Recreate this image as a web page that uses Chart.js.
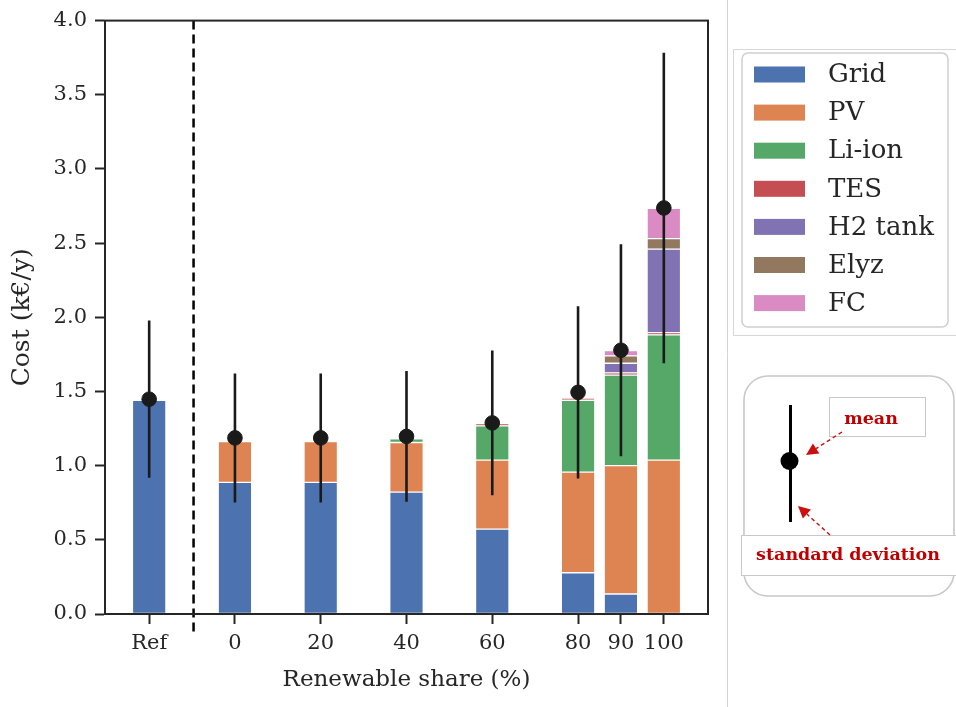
<!DOCTYPE html>
<html>
<head>
<meta charset="utf-8">
<script src="https://cdn.jsdelivr.net/npm/chart.js@4.4.1/dist/chart.umd.min.js"></script>
<style>
  html, body { margin: 0; padding: 0; background: #fff; }
  #wrap { width: 956px; height: 707px; position: relative; }
</style>
</head>
<body>
<div id="wrap"><canvas id="c" width="956" height="707"></canvas></div>
<script>
// Renewable share of each scenario; the reference case sits left of the dashed divider
const shares = [-20, 0, 20, 40, 60, 80, 90, 100];
const shareLabels = ['Ref', '0', '20', '40', '60', '80', '90', '100'];
const dividerAt = -10;

// Yearly cost breakdown (k€/y) per technology
const grid   = [1.441, 0.887, 0.887, 0.822, 0.572, 0.278, 0.135, null];
const pv     = [null, 0.276, 0.276, 0.334, 0.465, 0.678, 0.865, 1.037];
const liIon  = [null, null, null, 0.025, 0.231, 0.485, 0.610, 0.845];
const tes    = [null, null, null, null, 0.015, 0.015, 0.015, 0.015];
const h2Tank = [null, null, null, null, null, null, 0.065, 0.563];
const elyz   = [null, null, null, null, null, null, 0.050, 0.070];
const fc     = [null, null, null, null, null, null, 0.035, 0.205];

// Mean cost and standard deviation over the sampled years
const meanCost = [1.448, 1.187, 1.187, 1.197, 1.288, 1.494, 1.778, 2.737];
const stdCost  = [0.530, 0.435, 0.435, 0.441, 0.488, 0.580, 0.715, 1.046];

const yTicks = [0, 0.5, 1, 1.5, 2, 2.5, 3, 3.5, 4];

const techs = [
  { label: 'Grid',    values: grid,   color: '#4C72B0' },
  { label: 'PV',      values: pv,     color: '#DD8452' },
  { label: 'Li-ion',  values: liIon,  color: '#55A868' },
  { label: 'TES',     values: tes,    color: '#C44E52' },
  { label: 'H2 tank', values: h2Tank, color: '#8172B3' },
  { label: 'Elyz',    values: elyz,   color: '#937860' },
  { label: 'FC',      values: fc,     color: '#DA8BC3' }
];

const INK = '#262626';
const SERIF = "'DejaVu Serif', serif";
Chart.defaults.font.family = SERIF;
Chart.defaults.color = INK;

const barSets = techs.map(t => ({
  type: 'bar',
  label: t.label,
  data: shares.map((s, i) => ({ x: s, y: t.values[i] })),
  backgroundColor: t.color,
  borderColor: '#ffffff',
  borderWidth: 1,
  borderSkipped: false,
  barThickness: 33.5,
  xAxisID: 'x',
  yAxisID: 'y',
  stack: 'cost',
  order: 0
}));

const errSet = {
  type: 'bar',
  label: 'std',
  data: shares.map((s, i) => ({ x: s, y: [meanCost[i] - stdCost[i], meanCost[i] + stdCost[i]] })),
  backgroundColor: '#1a1a1a',
  borderWidth: 0,
  grouped: false,
  maxBarThickness: 2.6,
  xAxisID: 'x',
  yAxisID: 'yStat',
  order: -1
};

const meanSet = {
  type: 'scatter',
  label: 'mean',
  data: shares.map((s, i) => ({ x: s, y: meanCost[i] })),
  backgroundColor: '#1a1a1a',
  borderColor: '#1a1a1a',
  pointRadius: 7.3,
  pointHoverRadius: 7.3,
  xAxisID: 'x',
  yAxisID: 'yStat',
  order: -2
};

function arrow(ctx, x0, y0, x1, y1) {
  const ang = Math.atan2(y1 - y0, x1 - x0);
  const head = 12, half = 6;
  const bx = x1 - head * Math.cos(ang), by = y1 - head * Math.sin(ang);
  ctx.setLineDash([4, 3]);
  ctx.lineWidth = 1.4;
  ctx.beginPath(); ctx.moveTo(x0, y0); ctx.lineTo(bx, by); ctx.stroke();
  ctx.setLineDash([]);
  ctx.beginPath();
  ctx.moveTo(x1, y1);
  ctx.lineTo(bx + half * Math.sin(ang), by - half * Math.cos(ang));
  ctx.lineTo(bx - half * Math.sin(ang), by + half * Math.cos(ang));
  ctx.closePath(); ctx.fill();
}

function roundRect(ctx, x, y, w, h, r) {
  ctx.beginPath();
  ctx.moveTo(x + r, y);
  ctx.arcTo(x + w, y, x + w, y + h, r);
  ctx.arcTo(x + w, y + h, x, y + h, r);
  ctx.arcTo(x, y + h, x, y, r);
  ctx.arcTo(x, y, x + w, y, r);
  ctx.closePath();
}

const decor = {
  id: 'decor',
  afterDraw(chart) {
    const { ctx, chartArea: a, scales: { x } } = chart;
    ctx.save();

    // divider between reference case and scenarios
    const dx = x.getPixelForValue(dividerAt) + 1.5;
    ctx.strokeStyle = '#000';
    ctx.lineWidth = 2.5;
    ctx.setLineDash([9, 5]);
    ctx.beginPath(); ctx.moveTo(dx, a.top); ctx.lineTo(dx, a.bottom + 20); ctx.stroke();
    ctx.setLineDash([]);

    // full box around the plot
    ctx.strokeStyle = INK;
    ctx.lineWidth = 2;
    ctx.strokeRect(a.left, a.top, a.right - a.left, a.bottom - a.top);

    // panel separator
    ctx.strokeStyle = '#d4d4d4';
    ctx.lineWidth = 1;
    ctx.beginPath(); ctx.moveTo(727.5, 0); ctx.lineTo(727.5, 707); ctx.stroke();

    // legend
    ctx.strokeStyle = '#d8d8d8';
    ctx.strokeRect(733.5, 49.5, 240, 286);
    ctx.strokeStyle = '#cfcfcf';
    ctx.lineWidth = 1.5;
    roundRect(ctx, 742, 53, 206, 274, 6); ctx.stroke();
    ctx.font = '26px ' + SERIF;
    ctx.textBaseline = 'middle';
    ctx.textAlign = 'left';
    let row = 0;
    chart.data.datasets.forEach(ds => {
      if (ds.stack !== 'cost') return;
      const cy = 74.5 + row * 38.1;
      ctx.fillStyle = ds.backgroundColor;
      ctx.fillRect(754, cy - 8, 51, 16);
      ctx.fillStyle = INK;
      ctx.fillText(ds.label, 828, cy + 1);
      row++;
    });

    // key explaining the mean marker and error bar
    ctx.strokeStyle = '#c8c8c8';
    ctx.lineWidth = 1.6;
    roundRect(ctx, 744, 376, 210, 220, 24); ctx.stroke();
    ctx.lineWidth = 1;
    ctx.strokeRect(829.5, 397.5, 96, 39);
    ctx.fillStyle = '#fff';
    ctx.fillRect(741.5, 535.5, 220, 40);
    ctx.strokeRect(741.5, 535.5, 220, 40);
    ctx.strokeStyle = '#000'; ctx.lineWidth = 3;
    ctx.beginPath(); ctx.moveTo(790.5, 405); ctx.lineTo(790.5, 522); ctx.stroke();
    ctx.fillStyle = '#000';
    ctx.beginPath(); ctx.arc(789.5, 461, 9, 0, Math.PI * 2); ctx.fill();
    ctx.strokeStyle = '#cc1010'; ctx.fillStyle = '#cc1010';
    arrow(ctx, 842, 432, 806, 455);
    arrow(ctx, 830, 535, 798, 506);
    ctx.fillStyle = '#c00000';
    ctx.font = 'bold 17.5px ' + SERIF;
    ctx.textAlign = 'center';
    ctx.fillText('mean', 871, 419);
    ctx.fillText('standard deviation', 848, 555);
    ctx.restore();
  }
};

new Chart(document.getElementById('c'), {
  data: { datasets: [meanSet, errSet, ...barSets] },
  options: {
    responsive: false,
    animation: false,
    devicePixelRatio: 1,
    layout: { padding: { top: 19, right: 248, bottom: 0, left: 0 } },
    plugins: { legend: { display: false }, tooltip: { enabled: false } },
    scales: {
      x: {
        type: 'linear',
        min: -30.3,
        max: 110.3,
        offset: false,
        stacked: true,
        afterBuildTicks: s => { s.ticks = shares.map(v => ({ value: v })); },
        afterFit: s => { s.height = 93; },
        ticks: {
          callback: (v, i) => shareLabels[i],
          font: { size: 21 },
          color: INK,
          padding: 7,
          maxRotation: 0,
          autoSkip: false
        },
        grid: { offset: false, drawOnChartArea: false, tickLength: 10, tickWidth: 2, tickColor: INK },
        border: { color: INK, width: 2 },
        title: { display: true, text: 'Renewable share (%)', font: { size: 23 }, color: INK, padding: { top: 0, bottom: 13 } }
      },
      y: {
        type: 'linear',
        min: 0,
        max: 4,
        stacked: true,
        afterBuildTicks: s => { s.ticks = yTicks.map(v => ({ value: v })); },
        afterFit: s => { s.width = 105; },
        ticks: {
          callback: v => v.toFixed(1),
          font: { size: 21 },
          color: INK,
          padding: 8
        },
        grid: { drawOnChartArea: false, tickLength: 10, tickWidth: 2, tickColor: INK },
        border: { color: INK, width: 2 },
        title: { display: true, text: 'Cost (k€/y)', font: { size: 25 }, color: INK, padding: { top: 7, bottom: 0 } }
      },
      yStat: {
        type: 'linear',
        display: false,
        min: 0,
        max: 4
      }
    }
  },
  plugins: [decor]
});
</script>
</body>
</html>
